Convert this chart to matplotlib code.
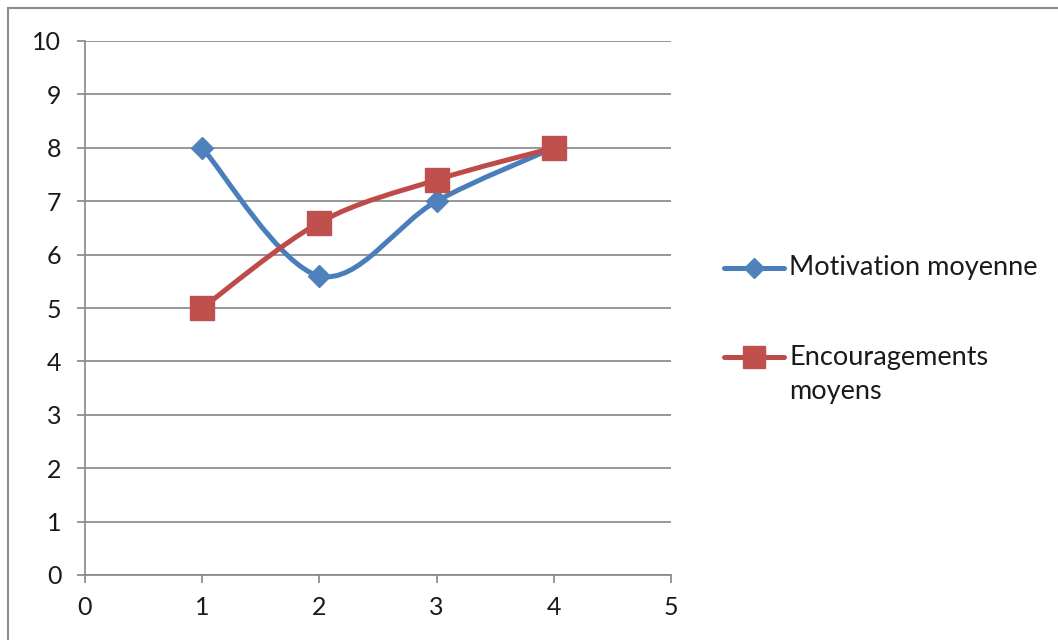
import matplotlib
matplotlib.use("Agg")
import matplotlib.pyplot as plt
from matplotlib.path import Path
from matplotlib.patches import PathPatch, Rectangle
from matplotlib.lines import Line2D
import numpy as np

x_values = [1, 2, 3, 4]
motivation = [8, 5.6, 7, 8]
encouragements = [5, 6.6, 7.4, 8]
series_names = ["Motivation moyenne", "Encouragements", "moyens"]
x_ticks = [0, 1, 2, 3, 4, 5]
y_ticks = [0, 1, 2, 3, 4, 5, 6, 7, 8, 9, 10]

plt.rcParams['font.family'] = ['Lato', 'DejaVu Sans']

blue = "#4A7EBB"
red = "#BE4B48"
blue_m = "#4F81BD"
red_m = "#C0504D"
grid_c = "#868686"
text_c = "#1a1a1a"

W, H = 1058, 640
fig = plt.figure(figsize=(W / 100, H / 100), dpi=100)
fig.patches.append(Rectangle((8 / W, -0.1), 1.2, (H - 8) / H + 0.1,
                             transform=fig.transFigure, fill=False,
                             edgecolor="#8c8c8c", linewidth=1.5))
ax = fig.add_axes([85 / W, 65 / H, (671 - 85) / W, (575 - 41) / H])


def smooth_path(xs, ys):
    pts = np.column_stack([xs, ys]).astype(float)
    n = len(pts)
    verts = [pts[0]]
    codes = [Path.MOVETO]
    for i in range(n - 1):
        p_prev = pts[i - 1] if i > 0 else pts[i]
        p_next2 = pts[i + 2] if i + 2 < n else pts[i + 1]
        c1 = pts[i] + (pts[i + 1] - p_prev) / 6.0
        c2 = pts[i + 1] - (p_next2 - pts[i]) / 6.0
        verts += [c1, c2, pts[i + 1]]
        codes += [Path.CURVE4] * 3
    return Path(verts, codes)


styles = [
    (motivation, blue, blue_m, "D", 11.5),
    (encouragements, red, red_m, "s", 17),
]
for ys, lc, mc, mk, ms in styles:
    ax.add_patch(PathPatch(smooth_path(x_values, ys), facecolor="none",
                           edgecolor=lc, linewidth=3.6, capstyle="round",
                           joinstyle="round", zorder=3))
    ax.plot(x_values, ys, linestyle="none", marker=mk, markersize=ms,
            markerfacecolor=mc, markeredgecolor=mc, zorder=4)

ax.set_xlim(0, 5)
ax.set_ylim(0, 10)
ax.set_xticks(x_ticks)
ax.set_yticks(y_ticks)
ax.yaxis.grid(True, color=grid_c, linewidth=1.2)
ax.set_axisbelow(True)
for side in ["top", "right"]:
    ax.spines[side].set_visible(False)
for side in ["left", "bottom"]:
    ax.spines[side].set_color(grid_c)
    ax.spines[side].set_linewidth(1.2)
ax.tick_params(axis="both", direction="out", length=6, width=1.2,
               color=grid_c, labelsize=18, labelcolor=text_c)
ax.tick_params(axis="y", pad=11)
ax.tick_params(axis="x", pad=9)

# Legend drawn manually (Excel-like: marker centred on the first text line)
leg_rows = [268, 357]
for (ys, lc, mc, mk, ms), yrow in zip(styles, leg_rows):
    yf = 1 - yrow / H
    fig.add_artist(Line2D([724 / W, 784 / W], [yf, yf], color=lc,
                          linewidth=3.6, transform=fig.transFigure,
                          solid_capstyle="round"))
    fig.add_artist(Line2D([754 / W], [yf], linestyle="none", marker=mk,
                          markersize=ms * 0.9, markerfacecolor=mc,
                          markeredgecolor=mc, transform=fig.transFigure))
fig.text(789 / W, 1 - 268 / H, series_names[0], fontsize=19.5,
         color=text_c, va="center", ha="left")
fig.text(789 / W, 1 - 357 / H, series_names[1], fontsize=19.5,
         color=text_c, va="center", ha="left")
fig.text(789 / W, 1 - 392 / H, series_names[2], fontsize=19.5,
         color=text_c, va="center", ha="left")

fig.savefig("out.png", dpi=100)
